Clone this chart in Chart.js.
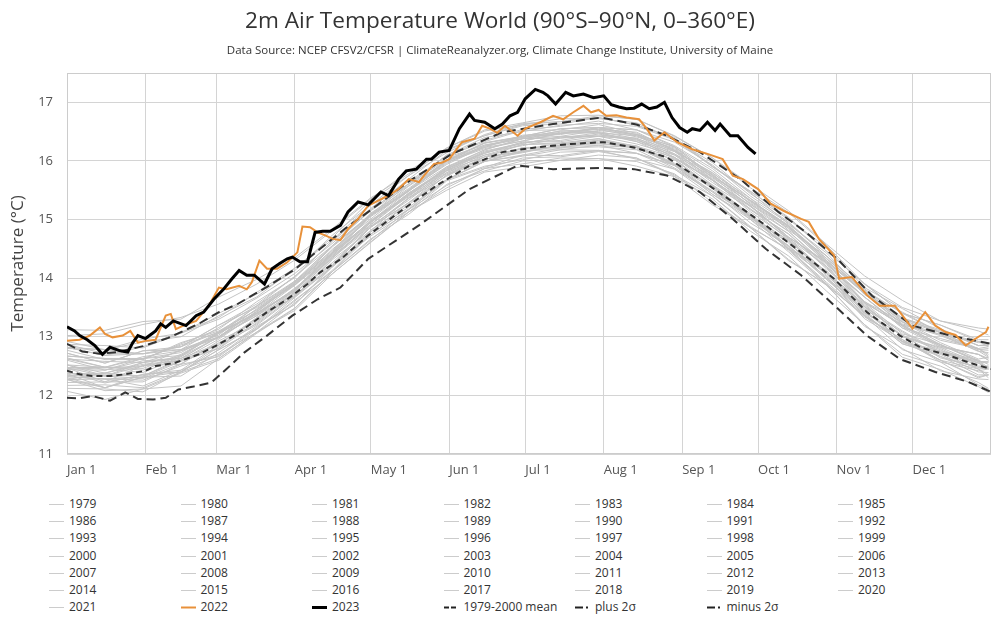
<!DOCTYPE html>
<html>
<head>
<meta charset="utf-8">
<script src="https://cdn.jsdelivr.net/npm/chart.js@4.4.0/dist/chart.umd.min.js"></script>
<style>
  body { margin: 0; background: #fff; font-family: "Open Sans", sans-serif; }
  #wrap { position: relative; width: 1000px; height: 636px; overflow: hidden; }
  #title { position: absolute; left: 0; top: 5px; width: 1000px; text-align: center; font-size: 22.6px; line-height: 30px; color: #333; }
  #subtitle { position: absolute; left: 0; top: 42px; width: 1000px; text-align: center; font-size: 11.5px; line-height: 16px; color: #333; }
  #chart { position: absolute; left: 0; top: 0; }
  .item { position: absolute; height: 16px; width: 130px; font-size: 12px; line-height: 16px; color: #333; white-space: nowrap; }
  .item svg { position: absolute; left: 0; top: 0; }
  .item span { position: absolute; left: 20px; top: 0; }
</style>
</head>
<body>
<div id="wrap">
  <canvas id="chart" width="1000" height="480"></canvas>
  <div id="title">2m Air Temperature World (90°S–90°N, 0–360°E)</div>
  <div id="subtitle">Data Source: NCEP CFSV2/CFSR | ClimateReanalyzer.org, Climate Change Institute, University of Maine</div>
  <div id="legend"></div>
</div>
<script>
// x axis: day of year (0 = Jan 1)
const monthDays = [0, 31, 59, 90, 120, 151, 181, 212, 243, 273, 304, 334];
const monthLabels = ['Jan 1', 'Feb 1', 'Mar 1', 'Apr 1', 'May 1', 'Jun 1', 'Jul 1', 'Aug 1', 'Sep 1', 'Oct 1', 'Nov 1', 'Dec 1'];
const yTicks = [11, 12, 13, 14, 15, 16, 17];

// grey years, sampled every 15 days
const grayDays = [0, 15, 30, 45, 60, 75, 90, 105, 120, 135, 150, 165, 180, 195, 210, 225, 240, 255, 270, 285, 300, 315, 330, 345, 360, 364];
const grayYears = [1979, 1980, 1981, 1982, 1983, 1984, 1985, 1986, 1987, 1988, 1989, 1990, 1991, 1992, 1993, 1994, 1995, 1996, 1997, 1998, 1999, 2000,
  2001, 2002, 2003, 2004, 2005, 2006, 2007, 2008, 2009, 2010, 2011, 2012, 2013, 2014, 2015, 2016, 2017, 2018, 2019, 2020, 2021];

const t1979 = [12.37, 12.13, 12.31, 12.33, 12.73, 13.18, 13.55, 14.22, 14.75, 15.18, 15.68, 16.00, 16.08, 16.19, 16.18, 16.13, 15.93, 15.43, 15.00, 14.45, 13.88, 13.36, 12.95, 12.60, 12.32, 12.35];
const t1980 = [12.47, 12.23, 12.51, 12.53, 12.93, 13.26, 13.77, 14.24, 14.87, 15.36, 15.74, 16.07, 16.15, 16.27, 16.35, 16.20, 16.03, 15.55, 15.02, 14.62, 14.00, 13.51, 12.90, 12.74, 12.58, 12.45];
const t1981 = [12.27, 12.38, 12.53, 12.60, 12.80, 13.33, 13.68, 14.32, 14.81, 15.37, 15.78, 16.02, 16.23, 16.23, 16.34, 16.23, 15.92, 15.59, 15.08, 14.50, 14.13, 13.41, 13.03, 12.64, 12.48, 12.50];
const t1982 = [12.32, 12.28, 12.16, 12.43, 12.68, 13.16, 13.55, 14.20, 14.72, 15.13, 15.66, 15.89, 16.10, 16.09, 16.18, 16.03, 15.86, 15.40, 14.86, 14.50, 13.90, 13.34, 12.95, 12.57, 12.42, 12.45];
const t1983 = [12.62, 12.58, 12.56, 12.76, 12.98, 13.40, 13.78, 14.38, 14.89, 15.33, 15.83, 16.02, 16.22, 16.22, 16.32, 16.26, 15.94, 15.47, 15.06, 14.50, 14.03, 13.31, 12.92, 12.60, 12.30, 12.35];
const t1984 = [12.27, 12.08, 12.11, 12.38, 12.60, 13.06, 13.48, 14.12, 14.67, 15.09, 15.60, 15.83, 16.00, 16.01, 16.10, 16.05, 15.74, 15.35, 14.80, 14.38, 13.78, 13.21, 12.65, 12.44, 12.15, 12.05];
const t1985 = [12.07, 11.93, 12.11, 12.16, 12.63, 13.08, 13.45, 14.08, 14.61, 15.13, 15.54, 15.87, 15.95, 16.05, 16.04, 15.99, 15.78, 15.29, 14.86, 14.30, 13.90, 13.18, 12.80, 12.42, 12.28, 12.27];
const t1986 = [12.22, 12.23, 12.23, 12.53, 12.66, 13.13, 13.63, 14.12, 14.75, 15.17, 15.68, 15.91, 16.02, 16.15, 16.17, 16.13, 15.86, 15.47, 14.94, 14.55, 13.98, 13.44, 12.92, 12.72, 12.45, 12.35];
const t1987 = [12.37, 12.38, 12.33, 12.60, 12.86, 13.33, 13.73, 14.38, 14.92, 15.43, 15.86, 16.17, 16.30, 16.41, 16.44, 16.39, 16.10, 15.73, 15.22, 14.80, 14.20, 13.68, 13.15, 12.82, 12.70, 12.63];
const t1988 = [12.62, 12.48, 12.63, 12.68, 13.06, 13.40, 13.88, 14.40, 14.99, 15.41, 15.88, 16.10, 16.28, 16.29, 16.38, 16.23, 16.02, 15.53, 15.10, 14.54, 14.08, 13.36, 12.95, 12.60, 12.45, 12.30];
const t1989 = [12.17, 12.18, 12.13, 12.40, 12.78, 13.13, 13.61, 14.14, 14.79, 15.21, 15.68, 15.99, 16.10, 16.22, 16.24, 16.19, 15.88, 15.49, 15.06, 14.52, 14.08, 13.41, 13.02, 12.66, 12.48, 12.48];
const t1990 = [12.47, 12.45, 12.39, 12.66, 13.08, 13.38, 13.79, 14.42, 14.95, 15.43, 15.83, 16.13, 16.32, 16.33, 16.42, 16.37, 16.06, 15.67, 15.23, 14.70, 14.26, 13.58, 13.20, 12.86, 12.58, 12.57];
const t1991 = [12.52, 12.33, 12.56, 12.63, 13.00, 13.36, 13.75, 14.36, 14.91, 15.41, 15.80, 16.10, 16.20, 16.30, 16.30, 16.23, 15.93, 15.53, 15.00, 14.56, 13.98, 13.40, 12.88, 12.67, 12.35, 12.35];
const t1992 = [12.32, 12.28, 12.26, 12.50, 12.70, 13.08, 13.58, 14.08, 14.62, 15.13, 15.50, 15.81, 15.90, 16.01, 16.04, 15.91, 15.73, 15.25, 14.86, 14.32, 13.88, 13.21, 12.70, 12.50, 12.22, 12.12];
const t1993 = [12.12, 12.11, 12.06, 12.40, 12.63, 13.08, 13.49, 14.12, 14.65, 15.17, 15.58, 15.87, 16.05, 16.07, 16.16, 16.05, 15.76, 15.40, 14.88, 14.48, 13.90, 13.36, 12.78, 12.57, 12.18, 12.10];
const t1994 = [12.30, 12.13, 12.36, 12.43, 12.86, 13.20, 13.69, 14.20, 14.82, 15.25, 15.76, 15.99, 16.16, 16.25, 16.26, 16.23, 15.94, 15.57, 15.05, 14.64, 14.08, 13.52, 13.02, 12.80, 12.50, 12.50];
const t1995 = [12.44, 12.43, 12.59, 12.63, 13.00, 13.36, 13.83, 14.34, 14.95, 15.45, 15.84, 16.15, 16.32, 16.35, 16.46, 16.33, 16.04, 15.67, 15.13, 14.68, 14.10, 13.56, 13.00, 12.78, 12.45, 12.47];
const t1996 = [12.40, 12.21, 12.36, 12.40, 12.78, 13.14, 13.67, 14.20, 14.79, 15.29, 15.68, 15.99, 16.18, 16.19, 16.27, 16.13, 15.92, 15.43, 15.04, 14.50, 13.93, 13.38, 12.88, 12.70, 12.40, 12.39];
const t1997 = [12.37, 12.35, 12.33, 12.63, 12.88, 13.32, 13.79, 14.40, 14.95, 15.45, 15.88, 16.19, 16.38, 16.42, 16.52, 16.45, 16.16, 15.80, 15.30, 14.88, 14.33, 13.78, 13.30, 13.10, 12.85, 12.85];
const t1998 = [12.87, 12.85, 12.81, 13.06, 13.30, 13.66, 14.08, 14.60, 15.15, 15.58, 16.06, 16.27, 16.40, 16.51, 16.50, 16.38, 16.18, 15.67, 15.23, 14.68, 14.20, 13.51, 13.10, 12.74, 12.56, 12.45];
const t1999 = [12.34, 12.33, 12.29, 12.54, 12.90, 13.22, 13.71, 14.22, 14.87, 15.29, 15.80, 16.03, 16.14, 16.27, 16.29, 16.25, 15.96, 15.58, 15.04, 14.60, 14.00, 13.48, 13.08, 12.72, 12.55, 12.45];
const t2000 = [12.27, 12.28, 12.31, 12.58, 12.80, 13.24, 13.75, 14.27, 14.87, 15.28, 15.76, 16.07, 16.16, 16.27, 16.36, 16.23, 15.94, 15.57, 15.06, 14.65, 14.05, 13.46, 12.92, 12.76, 12.60, 12.47];
const t2001 = [12.47, 12.48, 12.43, 12.68, 13.06, 13.40, 13.81, 14.44, 14.97, 15.39, 15.90, 16.13, 16.30, 16.41, 16.42, 16.29, 16.10, 15.63, 15.22, 14.70, 14.26, 13.58, 13.20, 12.87, 12.58, 12.57];
const t2002 = [12.67, 12.63, 12.61, 12.90, 13.10, 13.46, 13.88, 14.50, 15.01, 15.51, 15.94, 16.25, 16.38, 16.49, 16.48, 16.43, 16.12, 15.77, 15.26, 14.85, 14.28, 13.74, 13.22, 13.02, 12.76, 12.65];
const t2003 = [12.64, 12.48, 12.66, 12.76, 13.00, 13.48, 13.89, 14.42, 15.05, 15.48, 15.98, 16.21, 16.34, 16.47, 16.54, 16.41, 16.22, 15.71, 15.28, 14.86, 14.26, 13.68, 13.15, 12.97, 12.80, 12.67];
const t2004 = [12.60, 12.43, 12.63, 12.73, 13.08, 13.40, 13.81, 14.44, 14.97, 15.45, 15.86, 16.15, 16.26, 16.39, 16.42, 16.37, 16.06, 15.67, 15.24, 14.70, 14.28, 13.60, 13.25, 12.90, 12.62, 12.65];
const t2005 = [12.72, 12.55, 12.76, 12.78, 13.03, 13.53, 13.95, 14.48, 15.11, 15.53, 16.00, 16.23, 16.44, 16.47, 16.57, 16.45, 16.24, 15.75, 15.33, 14.90, 14.30, 13.74, 13.20, 13.04, 12.75, 12.73];
const t2006 = [12.47, 12.48, 12.49, 12.78, 13.00, 13.44, 13.91, 14.44, 15.07, 15.49, 15.96, 16.27, 16.38, 16.47, 16.56, 16.43, 16.20, 15.73, 15.32, 14.88, 14.30, 13.76, 13.25, 13.04, 12.78, 12.80];
const t2007 = [12.87, 12.71, 12.71, 12.83, 13.20, 13.50, 13.91, 14.54, 15.07, 15.49, 16.00, 16.23, 16.34, 16.47, 16.48, 16.35, 16.16, 15.69, 15.18, 14.75, 14.16, 13.58, 13.05, 12.87, 12.60, 12.53];
const t2008 = [12.27, 12.13, 12.31, 12.40, 12.83, 13.30, 13.69, 14.35, 14.87, 15.37, 15.84, 16.07, 16.28, 16.31, 16.38, 16.25, 16.06, 15.59, 15.18, 14.66, 14.10, 13.54, 13.00, 12.82, 12.55, 12.57];
const t2009 = [12.52, 12.38, 12.56, 12.66, 13.00, 13.43, 13.91, 14.44, 15.07, 15.49, 16.00, 16.30, 16.42, 16.55, 16.57, 16.53, 16.24, 15.83, 15.32, 14.90, 14.34, 13.78, 13.28, 13.07, 12.80, 12.83];
const t2010 = [12.82, 12.78, 12.91, 13.00, 13.36, 13.68, 14.17, 14.66, 15.25, 15.65, 16.08, 16.33, 16.52, 16.53, 16.62, 16.47, 16.18, 15.77, 15.26, 14.80, 14.23, 13.68, 13.18, 12.84, 12.70, 12.60];
const t2011 = [12.47, 12.33, 12.51, 12.60, 12.96, 13.40, 13.79, 14.44, 14.97, 15.49, 15.90, 16.19, 16.38, 16.39, 16.48, 16.33, 16.12, 15.67, 15.16, 14.76, 14.18, 13.60, 13.18, 12.84, 12.70, 12.60];
const t2012 = [12.52, 12.48, 12.46, 12.70, 13.06, 13.42, 13.93, 14.46, 15.09, 15.51, 16.02, 16.25, 16.42, 16.45, 16.57, 16.45, 16.24, 15.75, 15.32, 14.88, 14.30, 13.76, 13.26, 12.94, 12.80, 12.70];
const t2013 = [12.67, 12.63, 12.63, 12.86, 13.08, 13.46, 13.95, 14.56, 15.07, 15.57, 16.00, 16.31, 16.40, 16.51, 16.54, 16.49, 16.18, 15.79, 15.36, 14.82, 14.38, 13.72, 13.32, 13.07, 12.78, 12.77];
const t2014 = [12.72, 12.55, 12.76, 12.83, 13.08, 13.52, 13.93, 14.56, 15.09, 15.61, 16.02, 16.31, 16.42, 16.55, 16.57, 16.53, 16.26, 15.87, 15.36, 14.94, 14.38, 13.82, 13.32, 13.12, 12.85, 12.87];
const t2015 = [12.82, 12.68, 12.71, 12.83, 13.20, 13.56, 14.03, 14.64, 15.19, 15.69, 16.18, 16.43, 16.62, 16.67, 16.77, 16.71, 16.43, 16.05, 15.60, 15.15, 14.58, 14.04, 13.62, 13.27, 13.15, 13.13];
const t2016 = [13.12, 13.11, 13.26, 13.30, 13.68, 13.98, 14.35, 14.85, 15.37, 15.78, 16.20, 16.43, 16.60, 16.63, 16.74, 16.61, 16.38, 15.90, 15.46, 14.92, 14.43, 13.76, 13.42, 13.07, 12.90, 12.90];
const t2017 = [12.92, 12.78, 12.96, 13.06, 13.40, 13.73, 14.13, 14.74, 15.25, 15.75, 16.14, 16.45, 16.64, 16.67, 16.74, 16.61, 16.40, 15.91, 15.48, 15.04, 14.46, 13.91, 13.40, 13.20, 12.92, 12.90];
const t2018 = [12.77, 12.61, 12.61, 12.88, 13.13, 13.60, 14.01, 14.64, 15.17, 15.61, 16.10, 16.35, 16.54, 16.59, 16.68, 16.53, 16.32, 15.93, 15.40, 14.96, 14.38, 13.80, 13.40, 13.07, 12.92, 12.83];
const t2019 = [12.82, 12.68, 12.83, 13.08, 13.33, 13.76, 14.17, 14.70, 15.33, 15.75, 16.22, 16.53, 16.65, 16.77, 16.78, 16.71, 16.42, 16.05, 15.54, 15.12, 14.56, 13.90, 13.50, 13.27, 13.10, 13.03];
const t2020 = [13.02, 13.05, 13.21, 13.33, 13.56, 13.90, 14.31, 14.82, 15.35, 15.83, 16.22, 16.51, 16.62, 16.72, 16.72, 16.65, 16.36, 15.97, 15.44, 15.00, 14.53, 13.84, 13.48, 13.14, 12.85, 12.85];
const t2021 = [12.80, 12.78, 12.71, 12.78, 13.16, 13.53, 14.03, 14.56, 15.17, 15.61, 16.10, 16.40, 16.50, 16.61, 16.64, 16.59, 16.36, 15.90, 15.48, 15.02, 14.46, 13.90, 13.40, 13.20, 12.95, 12.95];

const grayValues = [t1979, t1980, t1981, t1982, t1983, t1984, t1985, t1986, t1987, t1988, t1989, t1990, t1991, t1992, t1993, t1994, t1995,
  t1996, t1997, t1998, t1999, t2000, t2001, t2002, t2003, t2004, t2005, t2006, t2007, t2008, t2009, t2010, t2011, t2012, t2013, t2014,
  t2015, t2016, t2017, t2018, t2019, t2020, t2021];

// 2022 (orange)
const days2022 = [0, 5, 9, 13, 15, 18, 22, 25, 28, 31, 35, 39, 41, 43, 47, 51, 56, 60, 63, 68, 71, 73, 76, 79, 83, 87, 91, 93, 96, 99,
  102, 105, 108, 111, 115, 119, 122, 127, 131, 135, 139, 142, 145, 148, 151, 156, 161, 164, 167, 170, 173, 178, 181, 187, 192, 196, 200, 204, 207, 210,
  213, 217, 221, 226, 229, 232, 236, 241, 247, 253, 259, 263, 267, 273, 278, 283, 290, 293, 297, 303, 305, 310, 316, 321, 327, 329, 334, 339, 343, 347,
  351, 355, 359, 363, 364];
const temps2022 = [12.93, 12.95, 13.02, 13.16, 13.05, 12.99, 13.02, 13.10, 12.90, 12.93, 12.95, 13.36, 13.39, 13.13, 13.21, 13.27, 13.53, 13.84, 13.81, 13.87,
  13.81, 13.93, 14.30, 14.16, 14.16, 14.27, 14.44, 14.88, 14.87, 14.78, 14.73, 14.67, 14.65, 14.84, 15.01, 15.24, 15.30, 15.41, 15.52, 15.69,
  15.64, 15.80, 15.95, 15.97, 16.03, 16.32, 16.38, 16.60, 16.55, 16.48, 16.60, 16.43, 16.55, 16.66, 16.77, 16.71, 16.83, 16.94, 16.83, 16.87,
  16.77, 16.78, 16.74, 16.71, 16.55, 16.35, 16.49, 16.32, 16.20, 16.12, 16.03, 15.75, 15.69, 15.52, 15.27, 15.15, 15.01, 14.96, 14.67, 14.39,
  13.99, 14.02, 13.71, 13.53, 13.53, 13.42, 13.14, 13.42, 13.19, 13.08, 13.03, 12.85, 12.97, 13.08, 13.17];

// 2023 (black), up to late September
const days2023 = [0, 3, 5, 8, 11, 14, 17, 21, 24, 26, 28, 31, 35, 37, 39, 42, 47, 51, 54, 58, 62, 65, 68, 71, 74, 78, 81, 84, 87, 89,
  92, 95, 98, 101, 104, 108, 111, 115, 119, 124, 127, 131, 134, 138, 142, 144, 147, 151, 155, 159, 161, 165, 169, 172, 175, 178, 181, 185, 188, 190,
  193, 197, 200, 204, 208, 212, 215, 218, 221, 224, 227, 230, 233, 236, 239, 242, 245, 247, 250, 253, 256, 258, 262, 265, 269, 272];
const temps2023 = [13.17, 13.10, 13.02, 12.95, 12.85, 12.70, 12.82, 12.76, 12.74, 12.90, 13.02, 12.97, 13.10, 13.22, 13.16, 13.27, 13.19, 13.36, 13.42, 13.64,
  13.82, 13.98, 14.13, 14.05, 14.05, 13.90, 14.16, 14.25, 14.33, 14.36, 14.28, 14.28, 14.78, 14.80, 14.80, 14.90, 15.13, 15.30, 15.25, 15.47,
  15.41, 15.69, 15.83, 15.86, 16.03, 16.03, 16.15, 16.18, 16.55, 16.80, 16.69, 16.66, 16.55, 16.63, 16.77, 16.83, 17.06, 17.22, 17.17, 17.11,
  16.97, 17.17, 17.11, 17.14, 17.08, 17.11, 16.96, 16.92, 16.89, 16.90, 16.97, 16.89, 16.92, 17.00, 16.74, 16.57, 16.49, 16.55, 16.52, 16.66,
  16.52, 16.63, 16.43, 16.43, 16.23, 16.12];

// 1979-2000 climatology and +/- 2 sigma
const meanDays = [0, 5, 10, 17, 23, 31, 35, 43, 52, 59, 66, 72, 79, 87, 95, 100, 108, 119, 132, 146,
  159, 172, 185, 199, 212, 224, 237, 250, 263, 276, 290, 303, 316, 329, 337, 349, 357, 365];
const meanTemps = [12.42, 12.36, 12.33, 12.33, 12.36, 12.42, 12.50, 12.56, 12.70, 12.85, 13.02, 13.20, 13.42, 13.64, 13.90, 14.10, 14.32, 14.73, 15.15, 15.58,
  15.92, 16.15, 16.23, 16.29, 16.32, 16.23, 16.06, 15.69, 15.30, 14.90, 14.44, 13.99, 13.42, 13.02, 12.82, 12.67, 12.55, 12.45];

const plusDays = [0, 6, 13, 20, 30, 40, 52, 60, 67, 79, 90, 100, 110, 119, 135, 152, 172, 192, 211, 225,
  237, 250, 266, 281, 292, 305, 318, 334, 349, 365];
const plusTemps = [12.88, 12.75, 12.71, 12.74, 12.84, 12.98, 13.22, 13.42, 13.55, 13.85, 14.15, 14.50, 14.85, 15.13, 15.65, 16.12, 16.49, 16.63, 16.74, 16.62,
  16.43, 16.15, 15.69, 15.13, 14.78, 14.30, 13.70, 13.19, 13.02, 12.88];

const minusDays = [0, 5, 10, 17, 23, 28, 34, 39, 44, 50, 57, 63, 70, 79, 89, 99, 108, 119, 139, 159,
  178, 192, 211, 224, 237, 250, 263, 276, 290, 303, 316, 329, 343, 356, 365];
const minusTemps = [11.96, 11.95, 11.99, 11.91, 12.05, 11.94, 11.93, 11.96, 12.10, 12.15, 12.22, 12.45, 12.73, 13.02, 13.36, 13.64, 13.84, 14.33, 14.90, 15.52,
  15.92, 15.86, 15.88, 15.86, 15.75, 15.47, 15.01, 14.50, 14.05, 13.54, 13.02, 12.62, 12.40, 12.23, 12.06];

const grayColor = '#c4c4c4';
const orange = '#e8913a';
const dashColor = '#333333';

function toPoints(xs, ys) {
  return xs.map((d, i) => ({ x: d, y: ys[i] }));
}

const datasets = [];
grayYears.forEach((yr, i) => {
  datasets.push({ label: String(yr), data: toPoints(grayDays, grayValues[i]), borderColor: grayColor, borderWidth: 1, order: 10, legendSym: 'gray' });
});
datasets.push({ label: '2022', data: toPoints(days2022, temps2022), borderColor: orange, borderWidth: 2, order: 1, legendSym: 'orange' });
datasets.push({ label: '2023', data: toPoints(days2023, temps2023), borderColor: '#000', borderWidth: 3, order: 0, legendSym: 'black' });
datasets.push({ label: '1979-2000 mean', data: toPoints(meanDays, meanTemps), borderColor: dashColor, borderWidth: 2, borderDash: [6, 4], order: 2, legendSym: 'dash' });
datasets.push({ label: 'plus 2σ', data: toPoints(plusDays, plusTemps), borderColor: dashColor, borderWidth: 2, borderDash: [9, 5], order: 3, legendSym: 'dashdot' });
datasets.push({ label: 'minus 2σ', data: toPoints(minusDays, minusTemps), borderColor: dashColor, borderWidth: 2, borderDash: [9, 5], order: 3, legendSym: 'dashdot' });

// thin frame round the plot area
const plotBorder = {
  id: 'plotBorder',
  beforeDatasetsDraw(chart) {
    const { ctx, chartArea: a } = chart;
    ctx.save();
    ctx.strokeStyle = '#cccccc';
    ctx.lineWidth = 1;
    ctx.strokeRect(a.left + 0.5, a.top + 0.5, a.right - a.left - 1, a.bottom - a.top - 1);
    ctx.restore();
  }
};

const chart = new Chart(document.getElementById('chart').getContext('2d'), {
  type: 'line',
  data: { datasets: datasets },
  options: {
    responsive: false,
    animation: false,
    devicePixelRatio: 1,
    events: [],
    layout: { padding: { top: 73, right: 9, bottom: 0, left: 0 } },
    elements: { point: { radius: 0 }, line: { tension: 0, fill: false } },
    plugins: { legend: { display: false }, tooltip: { enabled: false } },
    scales: {
      x: {
        type: 'linear',
        min: 0,
        max: 365,
        afterBuildTicks: s => { s.ticks = monthDays.map(v => ({ value: v })); },
        afterFit: s => { s.height = 26; },
        grid: { color: '#d4d4d4', drawTicks: false },
        border: { display: false },
        ticks: {
          autoSkip: false, maxRotation: 0, align: 'start', padding: 8, color: '#555',
          font: { family: 'Open Sans', size: 13 },
          callback: (v, i) => monthLabels[i]
        }
      },
      y: {
        min: 11,
        max: 17.5,
        afterBuildTicks: s => { s.ticks = yTicks.map(v => ({ value: v })); },
        afterFit: s => { s.width = 67; },
        grid: { color: '#d4d4d4', drawTicks: false },
        border: { display: false },
        ticks: { padding: 14, color: '#555', font: { family: 'Open Sans', size: 13 } },
        title: {
          display: true, text: 'Temperature (°C)', color: '#444',
          font: { family: 'Open Sans', size: 17 }, padding: { top: 8, bottom: 0 }
        }
      }
    }
  },
  plugins: [plotBorder]
});

// legend in seven columns, like the original
const legendBox = document.getElementById('legend');
const svgNS = 'http://www.w3.org/2000/svg';
chart.data.datasets.forEach((ds, i) => {
  const col = i % 7, row = Math.floor(i / 7);
  const item = document.createElement('div');
  item.className = 'item';
  item.style.left = (49 + col * 131.5) + 'px';
  item.style.top = (496 + row * 17.2) + 'px';
  const svg = document.createElementNS(svgNS, 'svg');
  svg.setAttribute('width', '16');
  svg.setAttribute('height', '16');
  const line = document.createElementNS(svgNS, 'line');
  line.setAttribute('y1', '8.5');
  line.setAttribute('y2', '8.5');
  line.setAttribute('x1', '0');
  line.setAttribute('x2', '15');
  if (ds.legendSym === 'gray') {
    line.setAttribute('stroke', '#cccccc'); line.setAttribute('stroke-width', '1');
  } else if (ds.legendSym === 'orange') {
    line.setAttribute('stroke', orange); line.setAttribute('stroke-width', '2');
  } else if (ds.legendSym === 'black') {
    line.setAttribute('stroke', '#000'); line.setAttribute('stroke-width', '3');
  } else if (ds.legendSym === 'dash') {
    line.setAttribute('x2', '12');
    line.setAttribute('stroke', '#222'); line.setAttribute('stroke-width', '2');
    line.setAttribute('stroke-dasharray', '5,2');
  } else {
    line.setAttribute('x2', '13');
    line.setAttribute('stroke', '#222'); line.setAttribute('stroke-width', '2');
    line.setAttribute('stroke-dasharray', '8,3,2,3');
  }
  svg.appendChild(line);
  const txt = document.createElement('span');
  txt.textContent = ds.label;
  item.appendChild(svg);
  item.appendChild(txt);
  legendBox.appendChild(item);
});
</script>
</body>
</html>
